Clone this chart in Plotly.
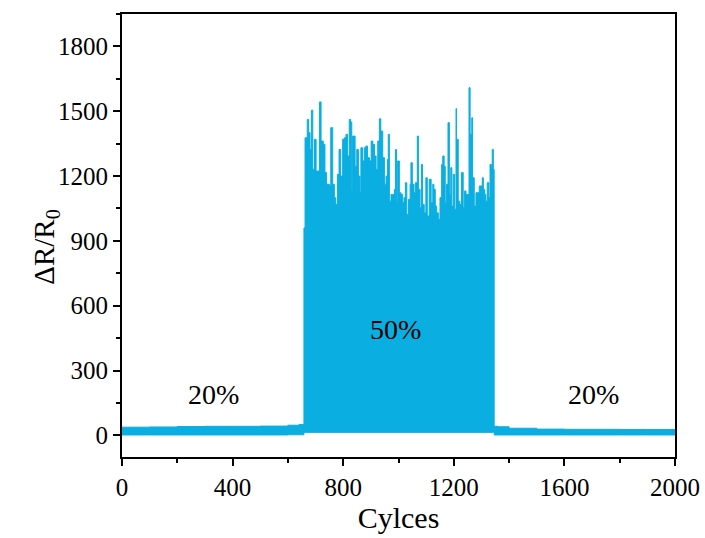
import plotly.graph_objects as go

# ---- data ----
# 20% strain, first segment: upper envelope of the oscillation
seg1_cycles = [0, 100, 200, 300, 400, 500, 600, 640, 655]
seg1_upper = [38, 39, 41, 42, 42, 43, 47, 50, 50]
seg1_lower = [2, 2, 2, 2, 2, 2, 3, 3, 3]

# 50% strain segment: peak values of the cycles
seg2_cycles = [658, 662, 670, 675, 680, 685, 690, 696, 702, 714, 720, 728, 734, 740, 750,
               755, 762, 768, 773, 779, 785, 791, 798, 804, 810, 816, 822, 827, 831, 834,
               843, 849, 855, 861, 864, 870, 876, 882, 888, 895, 901, 907, 913, 919, 925,
               931, 936, 943, 949, 955, 960, 963, 967, 973, 979, 985, 989, 993, 997, 1003,
               1009, 1015, 1020, 1025, 1030, 1036, 1042, 1045, 1050, 1056, 1061, 1068, 1072,
               1078, 1083, 1087, 1093, 1099, 1104, 1111, 1118, 1124, 1128, 1133, 1138, 1144,
               1150, 1156, 1160, 1165, 1169, 1174, 1179, 1184, 1189, 1193, 1198, 1203, 1208,
               1210, 1216, 1222, 1228, 1234, 1239, 1244, 1250, 1255, 1259, 1265, 1268, 1274,
               1280, 1285, 1292, 1298, 1303, 1307, 1312, 1316, 1321, 1327, 1331, 1336, 1339,
               1343]
seg2_peaks = [960, 1377, 1462, 1401, 1323, 1505, 1231, 1370, 1223, 1543, 1362, 1347, 1216, 1162, 1154,
              1424, 1162, 1100, 1069, 1208, 1323, 1200, 1370, 1377, 1393, 1293, 1462, 1450, 1138, 1385,
              1246, 1323, 1200, 1123, 1331, 1270, 1331, 1339, 1285, 1270, 1362, 1347, 1293, 1231, 1362,
              1465, 1408, 1285, 1162, 1200, 1277, 1393, 1084, 1115, 1115, 1138, 1323, 1084, 1270, 1123,
              1115, 1077, 1100, 1169, 1023, 1092, 1162, 1262, 1162, 1123, 1169, 1385, 1138,
              1054, 1254, 1069, 1030, 1192, 1015, 1185, 1077, 1162, 1138, 1061, 1030, 1000,
              1100, 1254, 1293, 1246, 1077, 1162, 1447, 1115, 1239, 1061, 1208, 1046, 1512,
              1370, 1084, 1069, 1216, 1054, 1131, 1115, 1115, 1609, 1393, 1470, 1192, 1061,
              1123, 1123, 1154, 1154, 1192, 1138, 1115, 1084, 1169, 1100, 1254, 1239, 1323,
              1231]
seg2_lower = 14

# 20% strain, last segment: upper envelope
seg3_cycles = [1346, 1360, 1400, 1500, 1600, 1700, 1800, 1900, 2000]
seg3_upper = [42, 40, 33, 29, 28, 28, 27, 27, 27]
seg3_lower = [2, 2, 2, 2, 2, 2, 2, 2, 2]

labels = [("20%", 330, 190), ("50%", 990, 490), ("20%", 1707, 190)]

COLOR = "#0BAEE1"
FONT = "Liberation Serif"

# build envelopes
up_x = list(seg1_cycles) + list(seg2_cycles) + list(seg3_cycles)
up_y = list(seg1_upper) + list(seg2_peaks) + list(seg3_upper)
lo_x = list(seg1_cycles) + [seg2_cycles[0], seg2_cycles[-1]] + list(seg3_cycles)
lo_y = list(seg1_lower) + [seg2_lower, seg2_lower] + list(seg3_lower)

fig = go.Figure()
fig.add_trace(go.Scatter(x=lo_x, y=lo_y, mode="lines", line=dict(color=COLOR, width=1, shape="hv"),
                         showlegend=False, hoverinfo="skip"))
fig.add_trace(go.Scatter(x=up_x, y=up_y, mode="lines", line=dict(color=COLOR, width=1, shape="hv"),
                         fill="tonexty", fillcolor=COLOR, showlegend=False))

for text, x, y in labels:
    fig.add_annotation(x=x, y=y, text=text, showarrow=False,
                       font=dict(family=FONT, size=28, color="black"))

# y-axis title
fig.add_annotation(x=-0.139, y=0.475, xref="paper", yref="paper", text="ΔR/R<sub>0</sub>",
                   textangle=-90, showarrow=False, xanchor="center", yanchor="middle",
                   font=dict(family=FONT, size=29, color="black"))

axis_common = dict(
    showline=True, linecolor="black", linewidth=1.8, mirror=True,
    ticks="outside", ticklen=7, tickwidth=1.8, tickcolor="black",
    showgrid=False, zeroline=False, automargin=False,
    tickfont=dict(family=FONT, size=25, color="black"),
)

fig.update_xaxes(range=[0, 2000], dtick=400, tick0=0,
                 minor=dict(dtick=200, ticklen=4, tickwidth=1.5, tickcolor="black", ticks="outside", showgrid=False),
                 title=dict(text="Cylces", font=dict(family=FONT, size=30, color="black"), standoff=4),
                 **axis_common)
fig.update_yaxes(range=[-100, 1950], dtick=300, tick0=0,
                 minor=dict(dtick=150, ticklen=4, tickwidth=1.5, tickcolor="black", ticks="outside", showgrid=False),
                 **axis_common)

fig.update_layout(
    width=705, height=538,
    margin=dict(l=122, r=30, t=14, b=81),
    plot_bgcolor="white", paper_bgcolor="white",
    font=dict(family=FONT, color="black"),
)

fig.write_html("out.html")
